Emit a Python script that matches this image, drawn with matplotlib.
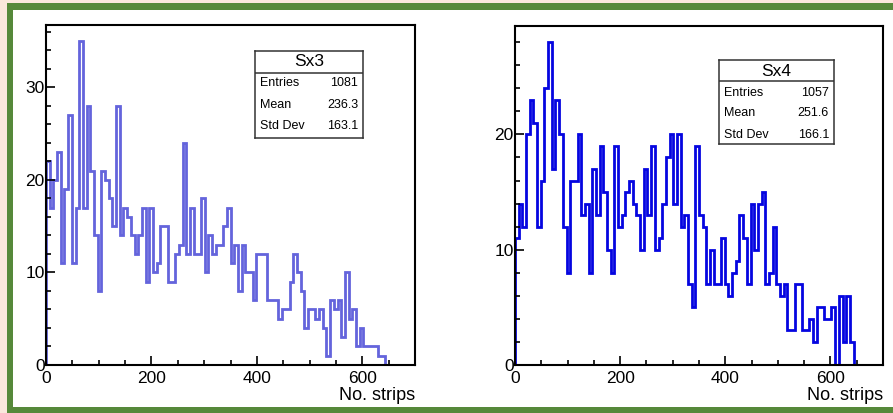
import numpy as np
import matplotlib
matplotlib.use("Agg")
import matplotlib.pyplot as plt
from matplotlib.patches import Rectangle
from matplotlib.ticker import MultipleLocator
from matplotlib.transforms import ScaledTranslation

plt.rcParams['font.family'] = ['Liberation Sans', 'DejaVu Sans']

# histogram contents, 100 bins of 7 strips each over 0-700
x_range = (0, 700)
n_bins = 100

sx3_counts = [22, 17, 20, 23, 11, 19, 27, 11, 17, 35,
              17, 28, 21, 14, 8, 21, 20, 18, 15, 28,
              14, 17, 16, 14, 12, 14, 17, 9, 17, 10,
              11, 15, 15, 9, 9, 12, 13, 24, 12, 17,
              12, 12, 18, 10, 14, 12, 13, 13, 15, 17,
              11, 13, 8, 13, 10, 10, 7, 12, 12, 12,
              7, 7, 7, 5, 6, 6, 9, 12, 10, 8,
              4, 6, 6, 5, 6, 4, 1, 7, 6, 7,
              3, 10, 5, 6, 2, 4, 2, 2, 2, 2,
              1, 1, 0, 0, 0, 0, 0, 0, 0, 0]

sx4_counts = [11, 14, 12, 20, 23, 21, 12, 16, 24, 28,
              17, 23, 20, 12, 8, 16, 16, 20, 13, 14,
              8, 17, 13, 19, 15, 10, 8, 19, 12, 13,
              15, 16, 14, 13, 10, 17, 13, 19, 10, 11,
              14, 18, 20, 14, 20, 12, 13, 7, 5, 19,
              13, 12, 7, 10, 7, 7, 11, 7, 6, 8,
              9, 13, 11, 7, 14, 10, 14, 15, 7, 8,
              12, 7, 6, 7, 3, 3, 7, 7, 3, 3,
              4, 2, 5, 5, 4, 4, 5, 0, 6, 2,
              6, 2, 0, 0, 0, 0, 0, 0, 0, 0]

sx3_stats = [("Entries", "1081"), ("Mean", "236.3"), ("Std Dev", "163.1")]
sx4_stats = [("Entries", "1057"), ("Mean", "251.6"), ("Std Dev", "166.1")]

W, H = 893, 413


def fig_rect(x0, y0, x1, y1):
    # pixel box (top-left origin) -> figure fraction rect
    return [x0 / W, 1 - y1 / H, (x1 - x0) / W, (y1 - y0) / H]


def draw_hist(ax, counts, color):
    edges = np.linspace(x_range[0], x_range[1], n_bins + 1)
    ax.stairs(counts, edges, baseline=0, fill=False, color=color, lw=2.0)
    ax.set_xlim(*x_range)
    ax.set_ylim(0, 1.05 * max(counts))
    ax.xaxis.set_major_locator(MultipleLocator(200))
    ax.xaxis.set_minor_locator(MultipleLocator(50))
    ax.yaxis.set_major_locator(MultipleLocator(10))
    ax.yaxis.set_minor_locator(MultipleLocator(2))
    ax.tick_params(which='both', direction='in', top=False, right=False, width=1.2)
    ax.tick_params(which='major', length=6.5, labelsize=12.5)
    ax.tick_params(which='minor', length=3.3)
    ax.tick_params(axis='y', pad=1)
    ax.tick_params(axis='x', pad=4)
    for sp in ax.spines.values():
        sp.set_linewidth(1.5)
        sp.set_color('black')
    ax.set_xlabel("No. strips", fontsize=13, loc='right', labelpad=1)
    # ROOT lifts the y "0" a little so it sits above the x "0"
    lab0 = ax.yaxis.get_major_ticks()[0].label1
    lab0.set_transform(lab0.get_transform() + ScaledTranslation(0, 4 / 72, fig.dpi_scale_trans))


def stats_box(x0, y0, x1, y1, div, title, title_y, rows, row_ys, lab_x, val_x):
    bax = fig.add_axes(fig_rect(x0, y0, x1, y1))
    bax.set_xlim(x0, x1)
    bax.set_ylim(y1, y0)
    bax.set_xticks([])
    bax.set_yticks([])
    for sp in bax.spines.values():
        sp.set_linewidth(1.1)
        sp.set_color('#333333')
    bax.axhline(div, color='#333333', lw=1.1)
    bax.text((x0 + x1) / 2, title_y, title, ha='center', va='center', fontsize=12.5)
    for (lab, val), yy in zip(rows, row_ys):
        bax.text(lab_x, yy, lab, ha='left', va='center', fontsize=9)
        bax.text(val_x, yy, val, ha='right', va='center', fontsize=9)


fig = plt.figure(figsize=(W / 100, H / 100), dpi=100)
fig.patch.set_facecolor('white')

# slide frame: beige margin and green border
beige = '#fae8dc'
green = '#56893a'
fig.add_artist(Rectangle((0, 0), 7 / W, 1, transform=fig.transFigure, color=beige, lw=0))
fig.add_artist(Rectangle((0, 1 - 3 / H), 1, 3 / H, transform=fig.transFigure, color=beige, lw=0))
fig.add_artist(Rectangle((7 / W, 0), 6 / W, 1 - 3 / H, transform=fig.transFigure, color=green, lw=0))
fig.add_artist(Rectangle((7 / W, 1 - 10 / H), 1, 7 / H, transform=fig.transFigure, color=green, lw=0))
fig.add_artist(Rectangle((7 / W, 0), 1, 6 / H, transform=fig.transFigure, color=green, lw=0))

ax1 = fig.add_axes(fig_rect(46, 25, 415, 365))
draw_hist(ax1, sx3_counts, '#6464dc')

ax2 = fig.add_axes(fig_rect(515, 26, 883, 365))
draw_hist(ax2, sx4_counts, '#0505e0')

stats_box(255, 51, 363, 138, 72.5, "Sx3", 62, sx3_stats, [83.5, 105, 126], 260, 358)
stats_box(719, 60, 834, 144, 81, "Sx4", 71, sx4_stats, [92.5, 113, 135], 724, 829)

fig.savefig("out.png", dpi=100)
